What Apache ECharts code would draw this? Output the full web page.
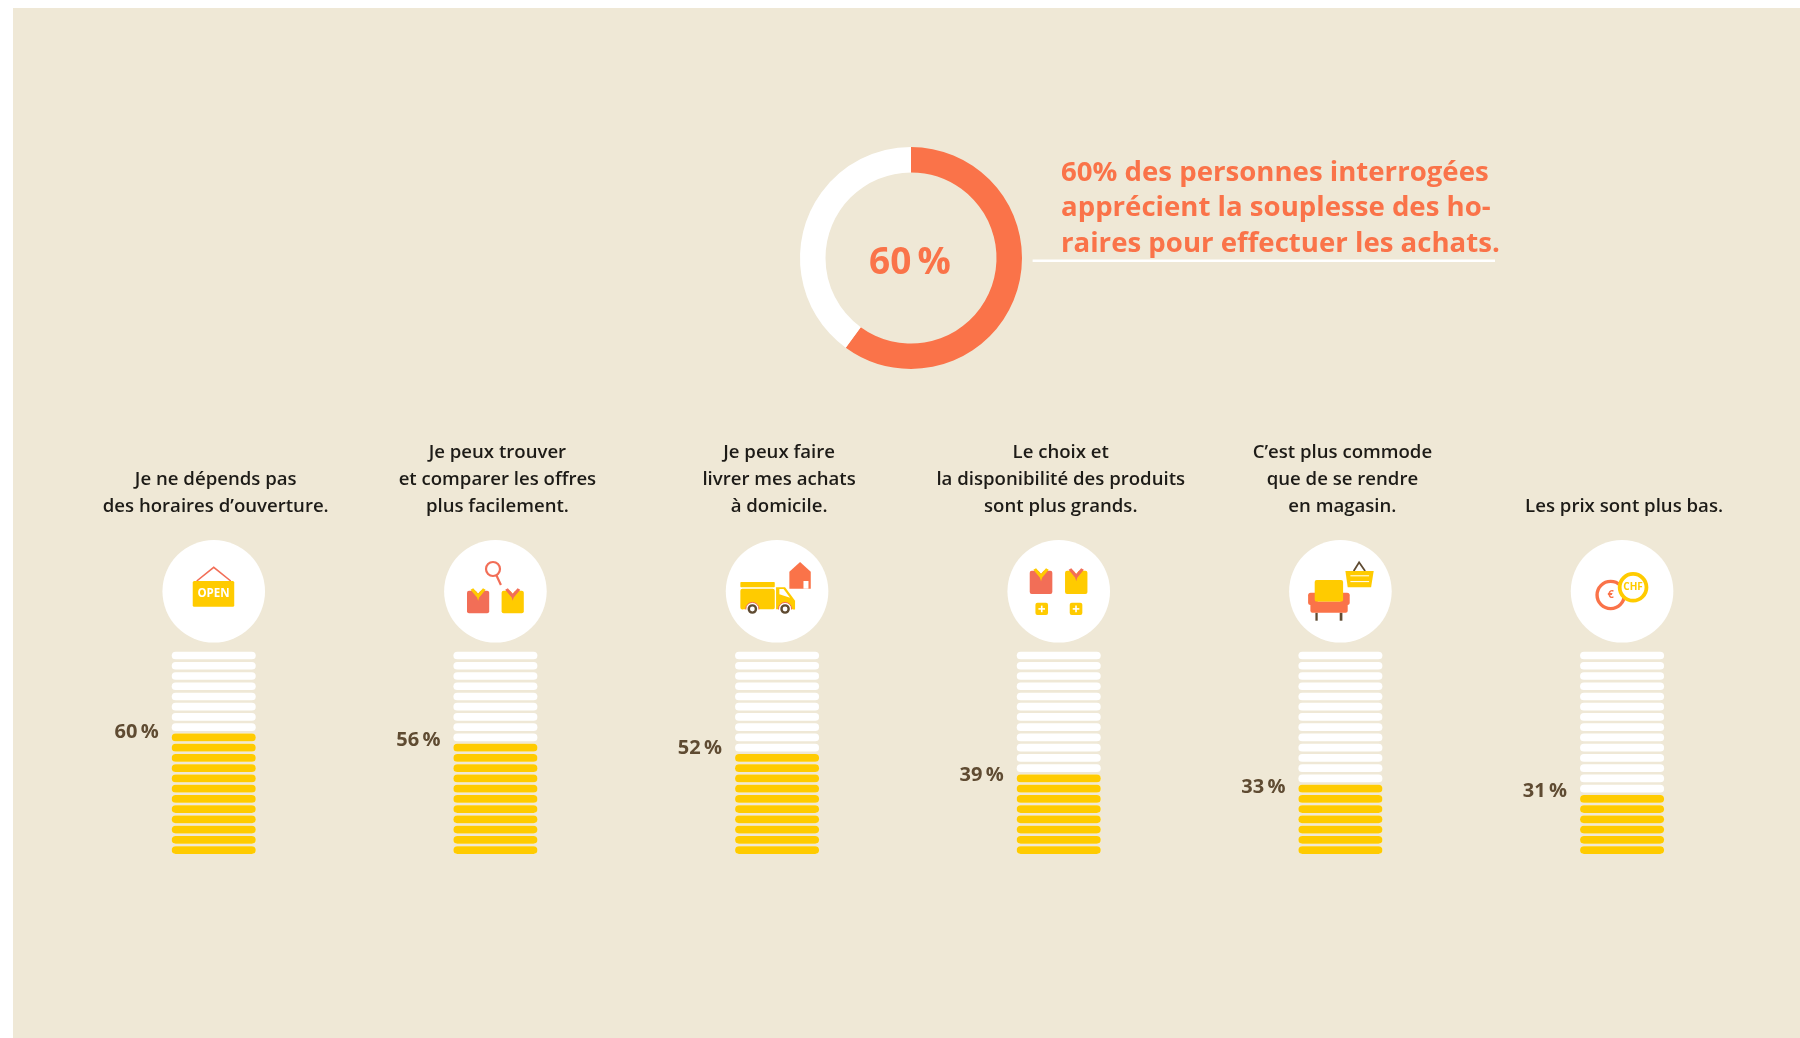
<!DOCTYPE html>
<html lang="fr">
<head>
<meta charset="utf-8">
<title>Souplesse des horaires</title>
<style>
  html, body { margin: 0; padding: 0; background: #fff; }
  #chart { width: 1800px; height: 1038px; }
</style>
<script src="https://cdn.jsdelivr.net/npm/echarts@6/dist/echarts.min.js"></script>
</head>
<body>
<div id="chart"></div>
<script>
// Survey results
const categories = [
  "Je ne dépends pas\ndes horaires d’ouverture.",
  "Je peux trouver\net comparer les offres\nplus facilement.",
  "Je peux faire\nlivrer mes achats\nà domicile.",
  "Le choix et\nla disponibilité des produits\nsont plus grands.",
  "C’est plus commode\nque de se rendre\nen magasin.",
  "Les prix sont plus bas."
];
const percentages = [60, 56, 52, 39, 33, 31];
const headlineShare = [60, 40];
const headline = "60% des personnes interrogées\napprécient la souplesse des ho-\nraires pour effectuer les achats.";

// Each column is a stack of 20 pills worth 5 points; a pill is lit to the nearest step.
const POINTS_PER_PILL = 5;
const PILLS = 100 / POINTS_PER_PILL;
const litPills = percentages.map(v => Math.round(v / POINTS_PER_PILL));

const FONT = '"Open Sans", "Noto Sans", sans-serif';
const CREAM = '#EFE8D6', ORANGE = '#FA7349', CORAL = '#F26E57', YELLOW = '#FFCB00', BROWN = '#5F4B32';
const PILL_PATH = 'path://M3.85 0H80.15A3.85 3.85 0 0 1 80.15 7.7H3.85A3.85 3.85 0 0 1 3.85 0Z';

const chart = echarts.init(document.getElementById('chart'), null, { renderer: 'canvas' });

chart.setOption({
  animation: false,
  backgroundColor: '#fff',
  title: {
    text: headline,
    left: 1061,
    top: 155,
    padding: 0,
    textStyle: { fontFamily: FONT, fontSize: 27.6, fontWeight: 700, color: ORANGE, lineHeight: 35.5 }
  },
  grid: { left: 72.9, top: 650.4, width: 1690, height: 204.8 },
  xAxis: {
    type: 'category',
    position: 'top',
    data: categories,
    axisLine: { show: false },
    axisTick: { show: false },
    splitLine: { show: false },
    axisLabel: {
      interval: 0,
      margin: 130,
      padding: [0, 0, 0, 4],
      fontFamily: FONT,
      fontSize: 18.6,
      fontWeight: 600,
      lineHeight: 27,
      color: '#1d1b17'
    }
  },
  yAxis: { type: 'value', min: 0, max: 100, show: false },
  series: [
    {
      type: 'pictorialBar',
      silent: true,
      z: 2,
      barGap: '-100%',
      symbol: PILL_PATH,
      symbolSize: [84, 7.7],
      symbolRepeat: PILLS,
      symbolMargin: '1!',
      symbolPosition: 'start',
      symbolBoundingData: 100,
      itemStyle: { color: '#fff' },
      data: percentages.map(() => 100)
    },
    {
      type: 'pictorialBar',
      silent: true,
      z: 3,
      symbol: PILL_PATH,
      symbolSize: [84, 7.7],
      symbolMargin: '1!',
      symbolPosition: 'start',
      itemStyle: { color: YELLOW },
      data: litPills.map(n => ({
        value: n * POINTS_PER_PILL,
        symbolRepeat: n,
        symbolBoundingData: n * POINTS_PER_PILL
      }))
    },
    {
      type: 'scatter',
      silent: true,
      z: 4,
      symbolSize: 0,
      itemStyle: { opacity: 1 },
      data: percentages,
      label: {
        show: true,
        position: 'left',
        distance: 55,
        formatter: p => p.value + '\u2009%',
        fontFamily: FONT,
        fontSize: 20,
        fontWeight: 700,
        color: BROWN,
        opacity: 1
      }
    },
    {
      type: 'pie',
      silent: true,
      center: [911, 258],
      radius: [85.5, 111],
      startAngle: 90,
      clockwise: true,
      labelLine: { show: false },
      emphasis: { disabled: true },
      data: [
        {
          value: headlineShare[0],
          itemStyle: { color: ORANGE },
          label: {
            show: true,
            position: 'center',
            formatter: '{c}\u2009%',
            offset: [-1, 5],
            fontFamily: FONT,
            fontSize: 37,
            fontWeight: 700,
            color: ORANGE
          }
        },
        { value: headlineShare[1], itemStyle: { color: '#fff' }, label: { show: false } }
      ]
    }
  ]
});

// --- Pictogram helpers: shapes are given relative to the centre of their disc ---
const poly = (points, fill) => ({ type: 'polygon', shape: { points }, style: { fill } });
const box = (x0, y0, x1, y1, fill, r = 0) => ({
  type: 'rect', shape: { x: x0, y: y0, width: x1 - x0, height: y1 - y0, r }, style: { fill }
});
const dot = (cx, cy, r, fill, stroke, lineWidth) => ({
  type: 'circle', shape: { cx, cy, r }, style: { fill, stroke, lineWidth }
});
const stroke = (points, color, lineWidth) => ({
  type: 'polyline', shape: { points }, style: { fill: null, stroke: color, lineWidth }
});
const glyph = (x, y, text, fill, fontSize) => ({
  type: 'text', x, y,
  style: { text, fill, fontFamily: FONT, fontSize, fontWeight: 700, align: 'center', verticalAlign: 'middle' }
});
function shirt(x0, y0, w, h, body, collar) {
  const x = t => x0 + t * w, y = t => y0 + t * h;
  return [
    box(x0, y(0.1), x0 + w, y0 + h, body, 2),
    poly([[x(0.28), y0 - 0.5], [x(0.72), y0 - 0.5], [x(0.5), y(0.22)]], '#fff'),
    poly([[x(0.5), y(0.42)], [x(0.16), y(0.06)], [x(0.28), y(0)], [x(0.5), y(0.22)], [x(0.72), y(0)], [x(0.84), y(0.06)]], collar),
    poly([[x(0.46), y(0.38)], [x(0.54), y(0.38)], [x(0.5), y(0.5)]], collar)
  ];
}
function plusBadge(x0, y0) {
  return [
    box(x0, y0, x0 + 12.6, y0 + 12.4, YELLOW, 2),
    box(x0 + 3, y0 + 5.4, x0 + 9.6, y0 + 7, '#fff'),
    box(x0 + 5.5, y0 + 2.9, x0 + 7.1, y0 + 9.5, '#fff')
  ];
}

const icons = [
  // Opening-hours sign
  [
    stroke([[-17, -10.3], [0, -24], [17, -10.3]], CORAL, 1.6),
    box(-21, -10.3, 20.5, 15.4, YELLOW, 1.5),
    glyph(-0.2, 2.8, 'OPEN', '#fff', 11.5)
  ],
  // Comparing two shirts under a magnifier
  [
    dot(-2.4, -22.3, 7, '#fff', CORAL, 2.2),
    stroke([[1, -16], [5.5, -6.3]], CORAL, 2.2),
    ...shirt(-28.4, -3, 22.2, 25, CORAL, YELLOW),
    ...shirt(6.2, -3, 22.2, 25, YELLOW, CORAL)
  ],
  // Delivery van and house
  [
    poly([[12.3, -2.6], [12.3, -19.6], [23, -29.3], [33.7, -19.6], [33.7, -2.6]], ORANGE),
    box(26.4, -10.3, 31.4, -2.6, '#fff'),
    box(-36.7, -9.3, -2.3, -4, YELLOW, 0.8),
    box(-36.7, -2.6, -2.3, 18.3, YELLOW, 2),
    poly([[-1, -4], [8, -4], [18, 9.4], [18, 18.3], [-1, 18.3]], YELLOW),
    poly([[2.3, -2.3], [6.5, -2.3], [13, 6.5], [2.3, 3]], '#fff'),
    dot(-24.7, 17.7, 6.6, '#fff', CORAL, 1),
    dot(8, 17.7, 6.6, '#fff', CORAL, 1),
    box(-34, 18.3, 16, 26, '#fff'),
    dot(-24.7, 17.7, 3.6, '#fff', BROWN, 2.4),
    dot(8, 17.7, 3.6, '#fff', BROWN, 2.4)
  ],
  // Wider range of products
  [
    ...shirt(-29, -23, 22.6, 25.7, CORAL, YELLOW),
    ...shirt(6.3, -23, 22.4, 25.7, YELLOW, CORAL),
    ...plusBadge(-23.3, 11.4),
    ...plusBadge(11, 11.4)
  ],
  // Armchair and shopping basket
  [
    box(-25, 21.4, -22.7, 29.4, BROWN),
    box(-0.7, 21.4, 2, 29.4, BROWN),
    box(-32.3, 1.4, -22.7, 13.7, ORANGE, 2.5),
    box(0, 1.4, 9.3, 13.7, ORANGE, 2.5),
    box(-25.7, -11.3, 2.7, 10.4, YELLOW, 2),
    box(-30, 10.4, 7.3, 21.4, ORANGE, 2),
    stroke([[13.3, -20.3], [18.7, -29], [24.7, -20.3]], BROWN, 1.8),
    poly([[5, -20.3], [33.3, -20.3], [30.7, -4], [7.3, -4]], YELLOW),
    box(10, -16, 28.7, -15, '#fff'),
    box(10, -10.2, 28.7, -9.2, '#fff')
  ],
  // Euro and franc coins
  [
    dot(-11.4, 3.7, 13.6, '#fff', ORANGE, 3.4),
    glyph(-11.4, 3.7, '€', ORANGE, 11),
    dot(11, -4, 13.4, '#fff', YELLOW, 3.8),
    glyph(11, -4.2, 'CHF', YELLOW, 10)
  ]
];

const DISC_Y = 591.3, DISC_R = 51.3;
const discs = categories.map((name, i) => ({
  type: 'group',
  x: chart.convertToPixel({ xAxisIndex: 0 }, name),
  y: DISC_Y,
  children: [dot(0, 0, DISC_R, '#fff')].concat(icons[i])
}));

chart.setOption({
  graphic: [
    { type: 'rect', z: -1, shape: { x: 13, y: 8, width: 1787, height: 1030 }, style: { fill: CREAM } },
    { type: 'rect', shape: { x: 1032.6, y: 259.5, width: 462.4, height: 2.4 }, style: { fill: '#fff' } },
    ...discs
  ]
});
</script>
</body>
</html>
